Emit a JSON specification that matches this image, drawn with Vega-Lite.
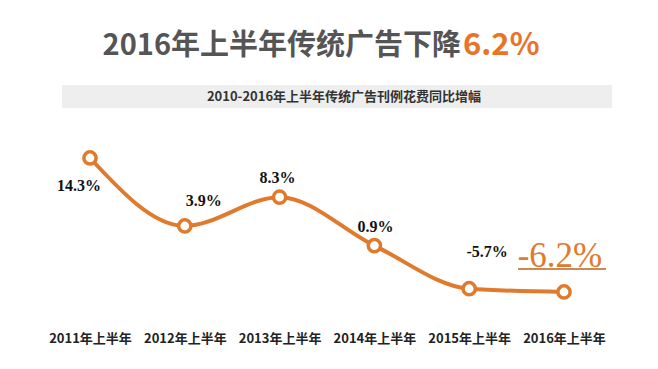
{
  "$schema": "https://vega.github.io/schema/vega-lite/v6.json",
  "width": 658,
  "height": 325,
  "autosize": {"type": "none"},
  "padding": {"left": 0, "top": 0, "right": 0, "bottom": 44},
  "background": "#ffffff",
  "config": {"view": {"stroke": null}},
  "data": {"values": [
    {"period": "2011年上半年", "growth": 14.3, "label": "14.3%"},
    {"period": "2012年上半年", "growth": 3.9, "label": "3.9%"},
    {"period": "2013年上半年", "growth": 8.3, "label": "8.3%"},
    {"period": "2014年上半年", "growth": 0.9, "label": "0.9%"},
    {"period": "2015年上半年", "growth": -5.7, "label": "-5.7%"},
    {"period": "2016年上半年", "growth": -6.2, "label": "-6.2%"}
  ]},
  "encoding": {
    "x": {"field": "period", "type": "ordinal", "sort": null,
      "scale": {"type": "point", "range": [90, 564], "padding": 0},
      "axis": {"title": null, "domain": false, "ticks": false, "labelAngle": 0, "labelPadding": 7,
        "labelFont": "Noto Sans CJK SC", "labelFontWeight": "bold", "labelFontSize": 13, "labelColor": "#222222"}},
    "y": {"field": "growth", "type": "quantitative",
      "scale": {"domain": [-11.25, 38.47], "nice": false, "zero": false},
      "axis": null}
  },
  "layer": [
    {"data": {"values": [{"t": "band"}]}, "mark": {"type": "rect", "color": "#eeeeee"}, "encoding": {"x": {"value": 62}, "x2": {"value": 612}, "y": {"value": 85}, "y2": {"value": 108}}},
    {"data": {"values": [{"t": "2016年上半年传统广告下降"}]}, "mark": {"type": "text", "align": "right", "baseline": "alphabetic", "font": "Noto Sans CJK SC", "fontWeight": "bold", "fontSize": 29, "color": "#555555"}, "encoding": {"x": {"value": 461}, "y": {"value": 55}, "text": {"field": "t"}}},
    {"data": {"values": [{"t": "6.2%"}]}, "mark": {"type": "text", "align": "left", "baseline": "alphabetic", "font": "Noto Sans CJK SC", "fontWeight": "bold", "fontSize": 31, "color": "#E8742A"}, "encoding": {"x": {"value": 463}, "y": {"value": 55}, "text": {"field": "t"}}},
    {"data": {"values": [{"t": "2010-2016年上半年传统广告刊例花费同比增幅"}]}, "mark": {"type": "text", "align": "center", "baseline": "middle", "font": "Noto Sans CJK SC", "fontWeight": "bold", "fontSize": 13, "color": "#333333"}, "encoding": {"x": {"value": 344}, "y": {"value": 97}, "text": {"field": "t"}}},
    {"mark": {"type": "line", "interpolate": "monotone", "color": "#E07A2C", "strokeWidth": 4}},
    {"mark": {"type": "point", "filled": true, "fill": "#ffffff", "stroke": "#E07A2C", "strokeWidth": 3.5, "size": 150, "opacity": 1}},
    {"transform": [{"filter": "datum.period == '2011年上半年'"}], "mark": {"type": "text", "dx": -11, "dy": 28, "font": "Liberation Serif", "fontWeight": "bold", "fontSize": 16, "color": "#111111"}, "encoding": {"text": {"field": "label"}}},
    {"transform": [{"filter": "datum.period == '2012年上半年'"}], "mark": {"type": "text", "dx": 19, "dy": -25, "font": "Liberation Serif", "fontWeight": "bold", "fontSize": 16, "color": "#111111"}, "encoding": {"text": {"field": "label"}}},
    {"transform": [{"filter": "datum.period == '2013年上半年'"}], "mark": {"type": "text", "dx": -2, "dy": -19, "font": "Liberation Serif", "fontWeight": "bold", "fontSize": 16, "color": "#111111"}, "encoding": {"text": {"field": "label"}}},
    {"transform": [{"filter": "datum.period == '2014年上半年'"}], "mark": {"type": "text", "dx": 1, "dy": -19, "font": "Liberation Serif", "fontWeight": "bold", "fontSize": 16, "color": "#111111"}, "encoding": {"text": {"field": "label"}}},
    {"transform": [{"filter": "datum.period == '2015年上半年'"}], "mark": {"type": "text", "dx": 18, "dy": -37, "font": "Liberation Serif", "fontWeight": "bold", "fontSize": 16, "color": "#111111"}, "encoding": {"text": {"field": "label"}}},
    {"transform": [{"filter": "datum.period == '2016年上半年'"}], "mark": {"type": "text", "dx": -4, "dy": -36, "font": "Liberation Serif", "fontSize": 35, "color": "#E07A2C"}, "encoding": {"text": {"field": "label"}}},
    {"data": {"values": [{"t": "underline"}]}, "mark": {"type": "rule", "color": "#C98A55", "strokeWidth": 2}, "encoding": {"x": {"value": 518}, "x2": {"value": 606}, "y": {"value": 269}}}
  ]
}
